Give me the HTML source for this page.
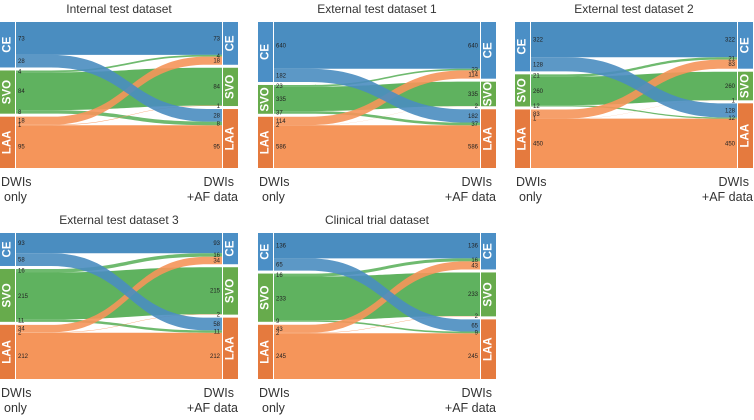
<!DOCTYPE html>
<html><head><meta charset="utf-8">
<style>
body{margin:0;background:#fff;width:754px;height:420px;overflow:hidden;font-family:"Liberation Sans",sans-serif}
svg{display:block}
</style></head>
<body>
<svg id="chart" width="754" height="420" viewBox="0 0 754 420" xmlns="http://www.w3.org/2000/svg"></svg>
<script>
// Categories (order: CE, SVO, LAA)
const categories = ["CE","SVO","LAA"];
const panelTitles = ["Internal test dataset","External test dataset 1","External test dataset 2","External test dataset 3","Clinical trial dataset"];
// flows[source][target] : rows = DWIs only class, cols = DWIs+AF class
const internalFlows = [[73,0,28],[4,84,8],[18,1,95]];
const external1Flows = [[640,0,182],[23,335,37],[114,2,586]];
const external2Flows = [[322,0,128],[21,260,12],[83,1,450]];
const external3Flows = [[93,0,58],[16,215,11],[34,2,212]];
const clinicalFlows = [[136,0,65],[16,233,9],[43,2,245]];
const allFlows = [internalFlows,external1Flows,external2Flows,external3Flows,clinicalFlows];

const svg = document.getElementById('chart');
const NS = "http://www.w3.org/2000/svg";
const nodeColor = ["#4b8fc6","#67ab4c","#e57a3e"];
const flowColor = ["#4a8dc0","#5fb25f","#f5955a"];
const panelPos = [[0,22],[258,22],[515,22],[0,233],[258,233]];
const W = 238, H = 146, NW = 15, GAP = 3;
const srcOrder = [[[0,0],[0,2]],[[1,0],[1,1],[1,2]],[[2,0],[2,1],[2,2]]];
const tgtOrder = [[[0,0],[1,0],[2,0]],[[1,1],[2,1]],[[0,2],[1,2],[2,2]]];

function mk(tag, attrs, parent){const e=document.createElementNS(NS,tag);for(const k in attrs)e.setAttribute(k,attrs[k]);(parent||svg).appendChild(e);return e;}

allFlows.forEach((F,pi)=>{
  const [px,py]=panelPos[pi];
  const g = mk('g',{});
  
  
  const t = mk('text',{x:px+W/2,y:py-9,'text-anchor':'middle','font-size':'12',fill:'#333'},g);
  t.textContent = panelTitles[pi];
  
  
  const srcTot = F.map(r=>r.reduce((a,b)=>a+b,0));
  const tgtTot = [0,1,2].map(j=>F.reduce((a,r)=>a+r[j],0));
  const total = srcTot.reduce((a,b)=>a+b,0);
  const k = (H-2*GAP)/total;
  const sY={}, tY={};
  let y=py;
  const srcNodes=[], tgtNodes=[];
  for(let i=0;i<3;i++){
    srcNodes.push([y,srcTot[i]*k]);
    let yy=y;
    srcOrder[i].forEach(([a,b])=>{sY[a+'_'+b]=yy;yy+=F[a][b]*k;});
    y+=srcTot[i]*k+GAP;
  }
  y=py;
  for(let j=0;j<3;j++){
    tgtNodes.push([y,tgtTot[j]*k]);
    let yy=y;
    tgtOrder[j].forEach(([a,b])=>{tY[a+'_'+b]=yy;yy+=F[a][b]*k;});
    y+=tgtTot[j]*k+GAP;
  }
  const x0=px+NW+1, x1=px+W-NW-1;
  const ca=x0+35, cb=x1-15, cm=(ca+cb)/2;
  const order=[[0,0],[1,1],[2,2],[1,0],[1,2],[2,1],[2,0],[0,2]];
  order.forEach(([a,b])=>{
    const v=F[a][b]; if(!v) return;
    const h=v*k, ys=sY[a+'_'+b], yt=tY[a+'_'+b];
    const d=`M${x0},${ys} L${ca},${ys} C${cm},${ys} ${cm},${yt} ${cb},${yt} L${x1},${yt} L${x1},${yt+h} L${cb},${yt+h} C${cm},${yt+h} ${cm},${ys+h} ${ca},${ys+h} L${x0},${ys+h} Z`;
    const p=mk('path',{d:d,fill:flowColor[a],'fill-opacity':a===b?1:0.9},g);
    
    
  });
  for(const key in sY){
    const [a,b]=key.split('_').map(Number); const v=F[a][b]; if(!v) continue;
    const l1=mk('text',{x:x0+2,y:sY[key]+v*k/2+2,'font-size':'6',fill:'#222'},g); l1.textContent=v;
    
    
    const l2=mk('text',{x:x1-2,y:tY[key]+v*k/2+2,'font-size':'6',fill:'#222','text-anchor':'end'},g); l2.textContent=v;
    
    
  }
  [[px,srcNodes,'left'],[px+W-NW,tgtNodes,'right']].forEach(([nx,nodes,side])=>{
    nodes.forEach(([ny,nh],i)=>{
      const r=mk('rect',{x:nx,y:ny,width:NW,height:nh,fill:nodeColor[i]},g);
      
      
      const cx=nx+NW/2, cy=ny+nh/2;
      const tx=mk('text',{x:cx,y:cy,'font-size':'11.5','font-weight':'bold',fill:'#fff','text-anchor':'middle','dominant-baseline':'central',transform:`rotate(-90 ${cx} ${cy})`},g);
      tx.textContent=categories[i];
      
      
    });
  });
  const by=py+H+18;
  [["DWIs",px+1,'start',by],["only",px+4,'start',by+15],["DWIs",px+W-4,'end',by],["+AF data",px+W,'end',by+15]].forEach(([s,x,a,yy])=>{
    const tt=mk('text',{x:x,y:yy,'font-size':'12.5',fill:'#333','text-anchor':a},g);
    tt.textContent=s;
    
    
  });
});
</script>
</body></html>
